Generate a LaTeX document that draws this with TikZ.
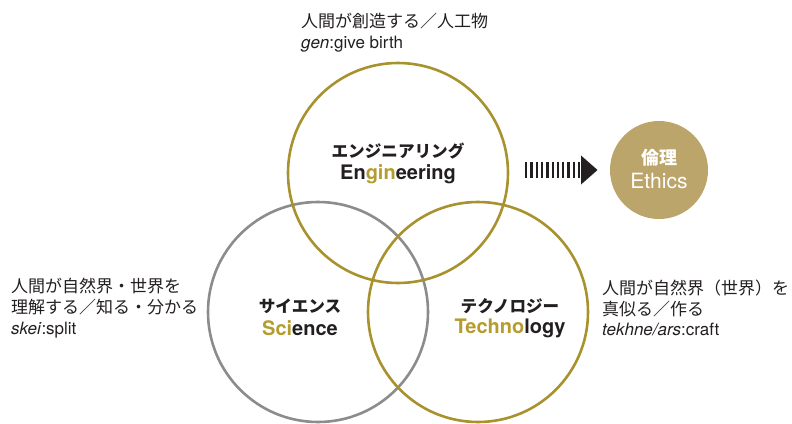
\documentclass[tikz,border=0pt]{standalone}
\usepackage{fontspec}
\setmainfont{TeX Gyre Heros}
\newfontfamily\jp{Noto Sans CJK JP}
\definecolor{goldline}{HTML}{A8922E}
\definecolor{goldtext}{HTML}{B59C2E}
\definecolor{grayline}{HTML}{8C8C8C}
\definecolor{ethfill}{HTML}{BBA56B}
\definecolor{ink}{HTML}{231F20}
\begin{document}
\begin{tikzpicture}[x=1pt,y=-1pt,
  ring/.style={circle,draw,line width=2.6pt,minimum size=220pt,inner sep=0pt},
  jplab/.style={font=\jp\bfseries\fontsize{16.6}{18}\selectfont,text=ink,inner sep=0pt},
  enlab/.style={font=\bfseries\fontsize{20}{22}\selectfont,text=ink,inner sep=0pt},
  sidelab/.style={font=\fontsize{17}{20.7}\selectfont,text=ink,align=left,anchor=west,inner sep=0pt},
  bar/.style={fill=ink}]
\useasboundingbox (0,0) rectangle (792,423);
% circles
\node[ring,draw=grayline] (sci) at (318,312) {};
\node[ring,draw=goldline] (tech) at (478,312) {};
\node[ring,draw=goldline] (eng) at (398,173) {};
\node[circle,fill=ethfill,minimum size=98pt,inner sep=0pt] (eth) at (659,170) {};
% circle texts
\node[jplab] (engjp) at (398,151) {エンジニアリング};
\node[enlab] (engen) at (398,174) {En\textcolor{goldtext}{gin}eering};
\node[jplab] (scijp) at (300,306) {サイエンス};
\node[enlab] (scien) at (300,328) {\textcolor{goldtext}{Sci}ence};
\node[jplab] (techjp) at (510,306) {テクノロジー};
\node[enlab] (techen) at (510,328) {\textcolor{goldtext}{Techno}logy};
\node[font=\jp\bfseries\fontsize{18}{20}\selectfont,text=white,inner sep=0pt] (ethjp) at (659,158) {倫理};
\node[font=\fontsize{21}{22}\selectfont,text=white,inner sep=0pt] (ethen) at (659,181) {Ethics};
% side labels
\node[sidelab] (toplab) at (301,33) {{\jp 人間が創造する／人工物}\\\textit{gen}:give birth};
\node[sidelab] (leftlab) at (11,308) {{\jp 人間が自然界・世界を}\\{\jp 理解する／知る・分かる}\\\textit{skei}:split};
\node[sidelab] (rightlab) at (602,308) {{\jp 人間が自然界（世界）を}\\{\jp 真似る／作る}\\\textit{tekhne/ars}:craft};
% dashed arrow
\coordinate (arrS) at (525,170);
\coordinate (arrE) at (582,170);
\foreach \i in {0,...,10}{
  \fill[ink] (525+5.3*\i,162) rectangle ++(2.3,16);
}
\fill[ink] (581,155.5) -- (597.5,170) -- (581,184.5) -- cycle;
\end{tikzpicture}
\end{document}
